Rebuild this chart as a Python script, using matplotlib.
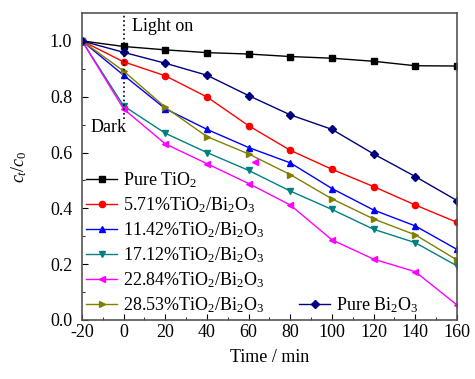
import numpy as np
import matplotlib.pyplot as plt

plt.rcParams['font.family'] = 'Liberation Serif'
plt.rcParams['mathtext.fontset'] = 'custom'
plt.rcParams['mathtext.rm'] = 'Liberation Serif'
plt.rcParams['mathtext.it'] = 'Liberation Serif:italic'
plt.rcParams['font.size'] = 13
plt.rcParams['axes.unicode_minus'] = False

# time points (min)
time = [-20, 0, 20, 40, 60, 80, 100, 120, 140, 160]

# ct/c0 for each sample
pure_tio2 = [1.0, 0.980, 0.968, 0.958, 0.953, 0.944, 0.938, 0.927, 0.911, 0.910]
s_571 = [1.0, 0.925, 0.875, 0.799, 0.696, 0.608, 0.540, 0.478, 0.412, 0.350]
s_1142 = [1.0, 0.877, 0.757, 0.683, 0.618, 0.563, 0.471, 0.394, 0.337, 0.253]
s_1712 = [1.0, 0.767, 0.669, 0.600, 0.536, 0.462, 0.396, 0.325, 0.277, 0.194]
s_2284 = [1.0, 0.756, 0.631, 0.560, 0.489, 0.412, 0.287, 0.218, 0.173, 0.054]
s_2853 = [1.0, 0.892, 0.762, 0.657, 0.595, 0.521, 0.434, 0.362, 0.305, 0.215]
pure_bi2o3 = [1.0, 0.959, 0.920, 0.877, 0.804, 0.735, 0.683, 0.595, 0.514, 0.428]

# stray marker seen in the figure
stray_x = [63]
stray_y = [0.565]

fig = plt.figure(figsize=(4.75, 3.79), dpi=100)
ax = fig.add_axes([0.1726, 0.1557, 0.7894, 0.81])

lw = 1.0
ms = 4.5
h1, = ax.plot(time, pure_tio2, color='black', marker='s', lw=lw, ms=ms, label='Pure TiO$_2$')
h2, = ax.plot(time, s_571, color='#ff0000', marker='o', lw=lw, ms=ms, label='5.71%TiO$_2$/Bi$_2$O$_3$')
h3, = ax.plot(time, s_1142, color='#0000ff', marker='^', lw=lw, ms=ms, label='11.42%TiO$_2$/Bi$_2$O$_3$')
h4, = ax.plot(time, s_1712, color='#008080', marker='v', lw=lw, ms=ms, label='17.12%TiO$_2$/Bi$_2$O$_3$')
h5, = ax.plot(time, s_2284, color='#ff00ff', marker='<', lw=lw, ms=ms, label='22.84%TiO$_2$/Bi$_2$O$_3$')
h6, = ax.plot(time, s_2853, color='#808000', marker='>', lw=lw, ms=ms, label='28.53%TiO$_2$/Bi$_2$O$_3$')
h7, = ax.plot(time, pure_bi2o3, color='#000080', marker='D', lw=lw, ms=ms - 0.8, label='Pure Bi$_2$O$_3$')
ax.plot(stray_x, stray_y, color='#ff00ff', marker='<', ls='none', ms=ms)

ax.plot([0, 0], [0.72, 1.1], color='black', ls=':', lw=1.2)
ax.text(4, 1.05, 'Light on', va='center', ha='left')
ax.text(-16, 0.69, 'Dark', va='center', ha='left')

ax.set_xlim(-20, 160)
ax.set_ylim(0, 1.1)
ax.set_xticks(np.arange(-20, 161, 20))
ax.set_xticks(np.arange(-20, 161, 10), minor=True)
ax.set_yticks(np.arange(0, 1.01, 0.2))
ax.set_yticks(np.arange(0, 1.01, 0.1), minor=True)
ax.yaxis.set_major_formatter(plt.FormatStrFormatter('%.1f'))
ax.tick_params(direction='in', which='both', top=False, right=False)
ax.tick_params(which='major', length=4)
ax.tick_params(which='minor', length=2.5)
ax.tick_params(axis='y', which='major', pad=7)
ax.tick_params(axis='x', which='major', pad=3)
for sp in ax.spines.values():
    sp.set_color('#555555')
    sp.set_linewidth(1.2)

ax.set_xlabel('Time / min', labelpad=6)
ax.set_ylabel('$c_t/c_0$', labelpad=15)

leg1 = ax.legend(handles=[h1, h2, h3, h4, h5, h6], loc='lower left',
                 bbox_to_anchor=(-0.008, -0.008), frameon=False,
                 handlelength=1.7, handletextpad=0.35, labelspacing=0.3,
                 borderaxespad=0)
ax.add_artist(leg1)
ax.legend(handles=[h7], loc='lower left', bbox_to_anchor=(0.56, -0.008),
          frameon=False, handlelength=1.7, handletextpad=0.35, borderaxespad=0)

fig.savefig('out.png', dpi=100)
